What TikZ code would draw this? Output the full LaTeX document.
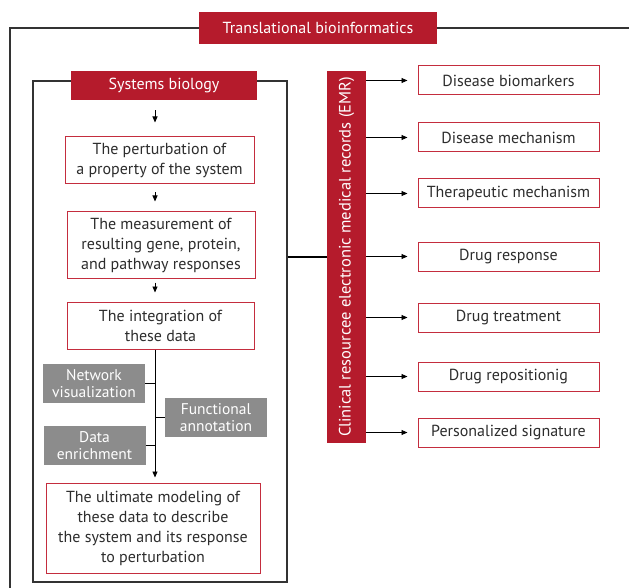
\documentclass[tikz,border=0pt]{standalone}
\usepackage{fontspec}
\setmainfont{PT Sans}
\usepackage{graphicx}
\usepackage{tikz}
\usetikzlibrary{arrows.meta,positioning}

\definecolor{emrred}{RGB}{181,27,44}
\definecolor{boxred}{RGB}{196,45,62}
\definecolor{toolgray}{RGB}{140,140,140}
\definecolor{inkgray}{RGB}{45,45,45}

\begin{document}
\begin{tikzpicture}[
    x=1pt, y=-1pt,
    font=\fontsize{16}{20}\selectfont,
    banner/.style={rectangle, fill=emrred, text=white, inner sep=0pt, align=center},
    stage/.style={rectangle, draw=boxred, line width=1pt, fill=white, text=inkgray, align=center, inner sep=0pt},
    outcome/.style={stage, minimum width=181, minimum height=29},
    tool/.style={rectangle, fill=toolgray, text=white, align=center, inner sep=0pt, minimum width=102, minimum height=39, font=\fontsize{15.5}{16.5}\selectfont},
    frame/.style={draw=black!80, line width=1.2pt},
    link/.style={draw=black, line width=0.9pt},
    arrow/.style={-{Triangle[length=6pt,width=5pt]}, line width=0.9pt}
]
\useasboundingbox (0,0) rectangle (629,588);

% outer frame
\node[banner, minimum width=238, minimum height=32] (title) at (318,28) {Translational bioinformatics};
\draw[frame] (title.west) -| (10,588);
\draw[frame] (title.east) -- (629,28);

% systems biology
\node[frame, minimum width=254, minimum height=501] (sysframe) at (160,331.5) {};
\node[banner, minimum width=186, minimum height=29] (sb) at (164,85.5) {Systems biology};
\coordinate (spine) at (155,0);

\node[stage, minimum width=189, minimum height=47] (perturb) at (159.5,160.5) {The perturbation of\\a property of the system};
\node[stage, minimum width=188, minimum height=66] (measure) at (161,245) {The measurement of\\resulting gene, protein,\\and pathway responses};
\node[stage, minimum width=187, minimum height=47] (integ) at (160.5,325.5) {The integration of\\these data};
\node[tool] (netvis) at (94,383.5) {Network\\visualization};
\node[tool] (funann) at (216,417.5) {Functional\\annotation};
\node[tool] (dataenr) at (94.5,445.5) {Data\\enrichment};
\node[stage, minimum width=214, minimum height=90] (model) at (153,528) {The ultimate modeling of\\these data to describe\\the system and its response\\to perturbation};

\draw[arrow, shorten <=10pt, shorten >=14pt] (sb.south -| spine) -- (perturb.north -| spine);
\draw[arrow, shorten <=8pt, shorten >=10pt] (perturb.south -| spine) -- (measure.north -| spine);
\draw[arrow, shorten <=4pt, shorten >=9pt] (measure.south -| spine) -- (integ.north -| spine);
\draw[arrow, shorten >=5pt] (integ.south -| spine) -- (model.north -| spine);
\draw[link] (netvis.east) -- (netvis.east -| spine);
\draw[link] (funann.west) -- (funann.west -| spine);
\draw[link] (dataenr.east) -- (dataenr.east -| spine);

% clinical resource
\node[banner, minimum width=39, minimum height=372, font=\fontsize{16.5}{20}\selectfont] (emr) at (346.5,257) {\rotatebox{90}{Clinical resourcee electronic medical records (EMR)}};
\draw[line width=1.8pt] (sysframe.east |- emr.west) -- (emr.west);

\node[outcome] (biomark) at (508.5,80.5) {Disease biomarkers};
\node[outcome] (mechan) at (508.5,137.5) {Disease mechanism};
\node[outcome] (therap) at (508.5,193.5) {Therapeutic mechanism};
\node[outcome] (response) at (508.5,256.5) {Drug response};
\node[outcome] (treat) at (508.5,317.5) {Drug treatment};
\node[outcome] (repos) at (508.5,376.5) {Drug repositionig};
\node[outcome] (signat) at (508.5,432.5) {Personalized signature};

\draw[arrow, shorten >=10pt] (emr.east |- biomark.west) -- (biomark.west);
\draw[arrow, shorten >=10pt] (emr.east |- mechan.west) -- (mechan.west);
\draw[arrow, shorten >=10pt] (emr.east |- therap.west) -- (therap.west);
\draw[arrow, shorten >=10pt] (emr.east |- response.west) -- (response.west);
\draw[arrow, shorten >=10pt] (emr.east |- treat.west) -- (treat.west);
\draw[arrow, shorten >=10pt] (emr.east |- repos.west) -- (repos.west);
\draw[arrow, shorten >=10pt] (emr.east |- signat.west) -- (signat.west);
\end{tikzpicture}
\end{document}
